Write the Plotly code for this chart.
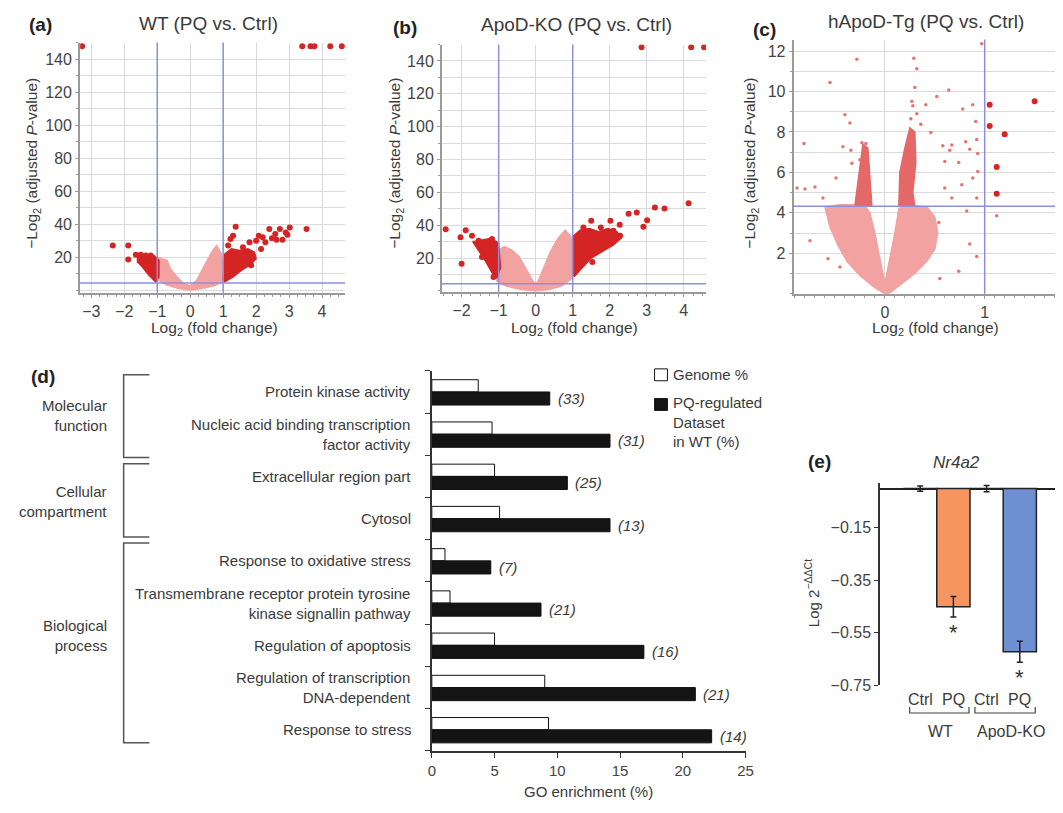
import plotly.graph_objects as go

W, H = 1063, 813

def px(x):
    return x / W

def py(y):
    return 1 - y / H

FONT = "Liberation Sans, Arial, sans-serif"
TXT = "#3a3a3a"
PINK = "#F3A2A2"
ARM = "#E46868"
RED = "#D42424"
BLUE = "#8E8EDC"
GRID = "#DADADA"
AXIS = "#9A9A9A"
ORANGE = "#F79560"
BLUEBAR = "#6E8FD0"

# ---------------- data: volcano (a) WT ----------------
wt_cloud = [(-1.0, 20), (-0.85, 19), (-0.7, 18), (-0.6, 13), (-0.4, 8), (-0.2, 4), (0.0, 2.5),
            (0.2, 6), (0.35, 12), (0.5, 18), (0.65, 23), (0.8, 27), (0.95, 22), (1.0, 16),
            (1.0, 5), (0.7, 2.5), (0.35, 1), (0.0, 0), (-0.35, 1), (-0.7, 3), (-0.95, 6)]
wt_blob_left = [(-1.6, 20), (-1.35, 21), (-1.1, 21), (-0.95, 18), (-0.95, 8), (-1.05, 5),
                (-1.25, 9), (-1.45, 14), (-1.6, 17)]
wt_blob_right = [(1.0, 6), (1.05, 22), (1.25, 25), (1.5, 24), (1.75, 25), (1.95, 23), (2.0, 19),
                 (1.8, 15), (1.55, 12), (1.3, 8), (1.05, 5)]
wt_sig = [(-2.35, 27), (-1.88, 27), (-1.88, 18.6), (-1.65, 21.5), (-1.5, 21.5), (-1.35, 21),
          (-1.2, 21), (-1.4, 17), (-1.3, 15), (-1.15, 18), (-1.1, 13), (-1.05, 11),
          (1.38, 38.4), (1.30, 33), (1.22, 31), (1.15, 27), (1.8, 29), (2.08, 33), (2.2, 32),
          (2.4, 37), (2.58, 34), (2.72, 37), (2.8, 30.5), (2.95, 33.5), (3.02, 38), (3.53, 37),
          (2.15, 25), (1.85, 15), (1.75, 21), (1.6, 26), (2.0, 30), (2.28, 29), (2.48, 31.5),
          (2.62, 30.5), (2.9, 35), (-3.28, 148), (3.4, 148), (3.65, 148), (3.77, 148),
          (4.25, 148), (4.6, 148)]

# ---------------- data: volcano (b) ApoD-KO ----------------
ko_cloud = [(-1.05, 24), (-0.85, 27), (-0.65, 25), (-0.45, 21), (-0.25, 13), (-0.05, 5),
            (0.05, 5), (0.2, 13), (0.4, 24), (0.6, 32), (0.8, 37), (0.95, 33), (1.0, 25),
            (1.0, 8), (0.7, 3), (0.35, 0.8), (0.0, 0), (-0.4, 0.8), (-0.8, 3), (-1.05, 6)]
ko_blob_left = [(-1.7, 30), (-1.45, 31), (-1.2, 32), (-1.0, 29), (-0.95, 14), (-1.05, 8),
                (-1.15, 10), (-1.35, 18), (-1.55, 25)]
ko_blob_right = [(1.0, 10), (1.0, 33), (1.2, 37), (1.45, 38), (1.7, 36), (1.95, 38), (2.2, 36),
                 (2.3, 32), (2.1, 28), (1.8, 24), (1.5, 20), (1.25, 14), (1.05, 9)]
ko_sig = [(-2.43, 37.6), (-2.03, 32.6), (-1.89, 37), (-1.72, 33.6), (-2.0, 16.6), (-1.54, 30.6),
          (-1.18, 31.6), (-1.14, 8.5), (-1.45, 20.6), (-1.3, 25), (1.5, 42.7), (1.29, 38.6),
          (2.02, 42.7), (2.27, 40.3), (2.51, 47), (2.73, 47.7), (3.22, 50.7), (3.48, 50.1),
          (4.13, 53.3), (3.01, 43), (2.91, 39), (1.53, 17.6), (2.28, 33.6), (1.93, 35.6),
          (1.76, 38.6), (2.1, 36.6), (2.86, 148.4), (4.2, 148.4), (4.55, 148.4)]

# ---------------- data: volcano (c) hApoD-Tg ----------------
tg_cloud = [(0.0, 0.0), (-0.1, 0.3), (-0.25, 0.9), (-0.38, 1.6), (-0.47, 2.4), (-0.55, 3.3),
            (-0.6, 4.3), (-0.45, 4.4), (-0.3, 4.4), (-0.2, 4.35), (-0.15, 4.0), (-0.1, 3.0),
            (-0.06, 2.0), (-0.02, 1.0), (0.0, 0.5), (0.02, 1.0), (0.06, 2.0), (0.1, 3.0),
            (0.14, 4.2), (0.2, 4.4), (0.3, 4.35), (0.42, 4.3), (0.5, 3.8), (0.53, 3.0),
            (0.5, 2.2), (0.42, 1.6), (0.3, 1.0), (0.15, 0.4), (0.04, 0.0)]
tg_arm_left = [(-0.3, 4.35), (-0.27, 5.5), (-0.25, 6.5), (-0.22, 7.4), (-0.17, 7.2),
               (-0.15, 6.0), (-0.13, 4.35)]
tg_arm_right = [(0.14, 4.35), (0.15, 6.0), (0.2, 7.2), (0.25, 8.2), (0.3, 8.0), (0.31, 6.5),
                (0.28, 5.0), (0.3, 4.35)]
tg_pts = [(0.97, 12.36), (-0.28, 11.59), (0.29, 11.64), (0.32, 11.13), (-0.55, 10.45),
          (0.30, 10.2), (0.64, 10.07), (0.52, 9.75), (0.27, 9.52), (0.28, 9.3), (0.41, 9.35),
          (0.78, 9.14), (0.88, 9.35), (0.32, 8.9), (-0.40, 8.85), (-0.35, 8.44), (0.26, 8.65),
          (0.36, 8.38), (0.91, 8.52), (0.46, 7.97), (-0.81, 7.43), (-0.42, 7.27), (-0.23, 7.47),
          (-0.19, 7.43), (-0.34, 7.1), (0.67, 7.35), (0.58, 7.32), (0.81, 7.52), (0.92, 7.63),
          (0.85, 7.14), (0.65, 7.1), (0.93, 6.94), (-0.25, 6.62), (-0.33, 6.45), (0.60, 6.54),
          (0.74, 6.49), (1.12, 3.85), (-0.75, 2.62), (0.74, 1.11), (0.92, 1.84), (-0.88, 5.23),
          (-0.80, 5.18), (-0.70, 5.28), (-0.62, 4.74), (-0.49, 5.72), (0.77, 5.39), (0.93, 6.05),
          (0.88, 5.72), (0.60, 5.23), (0.67, 4.74), (0.92, 4.74), (0.54, 3.52), (0.82, 4.09),
          (0.85, 2.46), (-0.57, 1.73), (-0.45, 1.32), (0.55, 0.75)]
tg_sig = [(1.05, 9.35), (1.50, 9.52), (1.05, 8.3), (1.20, 7.89), (1.12, 6.27), (1.12, 4.94)]

fc_cut = 1.0
p_cut = 4.32

# ---------------- data: GO enrichment (d) ----------------
go_terms = ["Protein kinase activity",
            "Nucleic acid binding transcription<br>factor activity",
            "Extracellular region part",
            "Cytosol",
            "Response to oxidative stress",
            "Transmembrane receptor protein tyrosine<br>kinase signallin pathway",
            "Regulation of apoptosis",
            "Regulation of transcription<br>DNA-dependent",
            "Response to stress"]
genome_pct = [3.7, 4.8, 5.0, 5.4, 1.05, 1.45, 5.0, 9.0, 9.3]
pq_pct = [9.4, 14.2, 10.8, 14.2, 4.7, 8.7, 16.9, 21.0, 22.3]
gene_counts = [33, 31, 25, 13, 7, 21, 16, 21, 14]
go_groups = ["Molecular<br>function", "Cellular<br>compartment", "Biological<br>process"]

# ---------------- data: qPCR (e) ----------------
conds = ["Ctrl", "PQ", "Ctrl", "PQ"]
genotypes = ["WT", "ApoD-KO"]
nr4a2_vals = [0.0, -0.451, 0.0, -0.623]
nr4a2_err = [0.01, 0.039, 0.012, 0.04]

fig = go.Figure()


def unzip(pairs):
    return [p[0] for p in pairs], [p[1] for p in pairs]


def add_poly(pairs, color, n):
    x, y = unzip(pairs)
    fig.add_trace(go.Scatter(x=x + [x[0]], y=y + [y[0]], mode="lines", fill="toself",
                             fillcolor=color, line=dict(color=color, width=1.5),
                             xaxis="x" + n, yaxis="y" + n, hoverinfo="skip", showlegend=False))


def add_pts(pairs, color, size, n):
    x, y = unzip(pairs)
    fig.add_trace(go.Scatter(x=x, y=y, mode="markers",
                             marker=dict(color=color, size=size, line=dict(width=0)),
                             xaxis="x" + n, yaxis="y" + n, hoverinfo="skip", showlegend=False))


# (a)
add_poly(wt_cloud, PINK, "")
add_poly(wt_blob_left, RED, "")
add_poly(wt_blob_right, RED, "")
add_pts(wt_sig, RED, 6, "")
# (b)
add_poly(ko_cloud, PINK, "2")
add_poly(ko_blob_left, RED, "2")
add_poly(ko_blob_right, RED, "2")
add_pts(ko_sig, RED, 6, "2")
# (c)
add_poly(tg_cloud, PINK, "3")
add_poly(tg_arm_left, ARM, "3")
add_poly(tg_arm_right, ARM, "3")
add_pts(tg_pts, "#EC7272", 3.5, "3")
add_pts(tg_sig, RED, 6, "3")

# (d) bars
cat_idx = list(range(len(go_terms)))
fig.add_trace(go.Bar(y=cat_idx, x=genome_pct, orientation="h", width=0.29, offset=-0.29,
                     marker=dict(color="white", line=dict(color="#111", width=1)),
                     xaxis="x4", yaxis="y4", showlegend=False, hoverinfo="skip"))
fig.add_trace(go.Bar(y=cat_idx, x=pq_pct, orientation="h", width=0.31, offset=0.0,
                     marker=dict(color="#141414", line=dict(color="#111", width=1)),
                     xaxis="x4", yaxis="y4", showlegend=False, hoverinfo="skip"))

# (e) bars
cond_idx = list(range(len(conds)))
fig.add_trace(go.Bar(x=cond_idx, y=nr4a2_vals, width=1.0,
                     marker=dict(color=[ORANGE, ORANGE, BLUEBAR, BLUEBAR],
                                 line=dict(color="#222", width=1.5)),
                     error_y=dict(type="data", array=nr4a2_err, color="#222", thickness=1.5, width=3),
                     xaxis="x5", yaxis="y5", showlegend=False, hoverinfo="skip"))

tickfont = dict(family=FONT, size=16, color="#444")
tickfont_d = dict(family=FONT, size=15, color="#444")


def volcano_x(dom, rng, tv, anchor, minor_dt):
    return dict(domain=dom, range=rng, tickvals=tv, showgrid=True, gridcolor=GRID, gridwidth=1,
                showline=True, linecolor=AXIS, linewidth=2, ticks="outside", ticklen=3,
                tickcolor=AXIS, zeroline=False, tickfont=tickfont, anchor=anchor,
                minor=dict(dtick=minor_dt, ticks="outside", ticklen=2, tickcolor=AXIS, showgrid=False))


def volcano_y(dom, rng, tv, anchor, minor_dt):
    return dict(domain=dom, range=rng, tickvals=tv, showgrid=True, gridcolor=GRID, gridwidth=1,
                showline=True, linecolor=AXIS, linewidth=2, ticks="outside", ticklen=3,
                tickcolor=AXIS, zeroline=False, tickfont=tickfont, anchor=anchor,
                minor=dict(dtick=minor_dt, ticks="outside", ticklen=2, tickcolor=AXIS,
                           showgrid=True, gridcolor=GRID))


layout = dict(
    width=W, height=H, margin=dict(l=0, r=0, t=0, b=0),
    paper_bgcolor="white", plot_bgcolor="white",
    font=dict(family=FONT, color=TXT), showlegend=False, barmode="overlay",
    xaxis=volcano_x([px(77), px(345)], [-3.34, 4.7], list(range(-3, 5)), "y", 0.25),
    yaxis=volcano_y([py(296), py(43)], [-1.6, 150.2], list(range(20, 141, 20)), "x", 10),
    xaxis2=volcano_x([px(443), px(710)], [-2.53, 4.6], list(range(-2, 5)), "y2", 0.25),
    yaxis2=volcano_y([py(295), py(45)], [-0.5, 150], list(range(20, 141, 20)), "x2", 10),
    xaxis3=volcano_x([px(798.7), 1.0], [-0.913, 1.704], [0, 1], "y3", 0.1),
    yaxis3=volcano_y([py(297), py(40)], [0, 12.57], list(range(2, 13, 2)), "x3", 1),
    xaxis4=dict(domain=[px(432.7), px(750)], range=[0, 25], tickvals=[0, 5, 10, 15, 20, 25],
                showgrid=False, zeroline=False, showline=True, linecolor="#333", linewidth=1.5,
                ticks="outside", ticklen=5, tickcolor="#333", tickfont=tickfont_d, anchor="y4"),
    yaxis4=dict(domain=[py(759.3), py(375)], range=[8.5, -0.5], tickvals=[],
                showticklabels=False, showgrid=False, zeroline=False,
                showline=True, linecolor="#333", linewidth=1.5, ticks="outside", ticklen=5,
                tickcolor="#333", anchor="x4",
                minor=dict(tickvals=[i - 0.5 for i in range(len(go_terms) + 1)], ticks="outside",
                           ticklen=5, tickcolor="#333", tickwidth=1, showgrid=False)),
    xaxis5=dict(domain=[px(886), 1.0], range=[-1.21, 4.06], tickvals=[], showticklabels=False,
                showgrid=False, zeroline=False, showline=False, ticks="", anchor="y5"),
    yaxis5=dict(domain=[py(692.7), py(488.7)], range=[-0.75, 0.02],
                tickvals=[-0.15, -0.35, -0.55, -0.75], showgrid=False, zeroline=True,
                zerolinecolor="#222", zerolinewidth=1.5, showline=True, linecolor="#333",
                linewidth=1.5, ticks="outside", ticklen=4, tickcolor="#333",
                tickfont=dict(family=FONT, size=16, color="#444"), anchor="x5"),
)
fig.update_layout(**layout)

shapes = []
# threshold lines in volcano plots
for n, show_neg in (("", True), ("2", True), ("3", False)):
    xs = [fc_cut, -fc_cut] if show_neg else [fc_cut]
    for xv in xs:
        shapes.append(dict(type="line", xref="x" + n, yref="y" + n + " domain",
                           x0=xv, x1=xv, y0=0, y1=1, line=dict(color=BLUE, width=1.5), layer="above"))
    shapes.append(dict(type="line", xref="x" + n + " domain", yref="y" + n,
                       x0=0, x1=1, y0=p_cut, y1=p_cut, line=dict(color=BLUE, width=1.5), layer="above"))

# GO group brackets
for top_px, bot_px in ((379, 462.7), (469, 543), (549, 751)):
    shapes.append(dict(type="path", xref="paper", yref="paper",
                       path=f"M {px(147)},{py(top_px)} L {px(121)},{py(top_px)} L {px(121)},{py(bot_px)} L {px(147)},{py(bot_px)}",
                       line=dict(color="#555", width=1.5)))

# legend boxes (d)
shapes.append(dict(type="rect", xref="paper", yref="paper", x0=px(658), x1=px(671), y0=py(385), y1=py(373),
                   line=dict(color="#111", width=1), fillcolor="white"))
shapes.append(dict(type="rect", xref="paper", yref="paper", x0=px(658), x1=px(671), y0=py(415), y1=py(403),
                   line=dict(color="#111", width=1), fillcolor="#141414"))

# genotype brackets (e)
for x0, x1 in ((916, 976), (982, 1043)):
    shapes.append(dict(type="path", xref="paper", yref="paper",
                       path=f"M {px(x0)},{py(715)} L {px(x0)},{py(721)} L {px(x1)},{py(721)} L {px(x1)},{py(715)}",
                       line=dict(color="#444", width=1.2)))
fig.update_layout(shapes=shapes)

ann = []


def txt(x, y, text, size=13, color=TXT, xanchor="center", angle=0, align="center"):
    ann.append(dict(x=px(x), y=py(y), xref="paper", yref="paper", text=text, showarrow=False,
                    font=dict(family=FONT, size=size, color=color), xanchor=xanchor,
                    yanchor="middle", textangle=angle, align=align))


# panel letters and titles
txt(37, 25, "<b>(a)</b>", 19, "#222")
txt(406, 28, "<b>(b)</b>", 19, "#222")
txt(769, 30, "<b>(c)</b>", 19, "#222")
txt(39, 381, "<b>(d)</b>", 19, "#222")
txt(825, 467, "<b>(e)</b>", 19, "#222")
txt(207, 24, "WT (PQ vs. Ctrl)", 19)
txt(579, 25, "ApoD-KO (PQ vs. Ctrl)", 19)
txt(933, 22, "hApoD-Tg (PQ vs. Ctrl)", 19)

ytitle = "\u2212Log<sub>2</sub> (adjusted <i>P</i>-value)"
xtitle = "Log<sub>2</sub> (fold change)"
for yx, xx in ((29, 213), (396, 577), (755, 942)):
    txt(yx, 165, ytitle, 15.5, angle=-90)
    txt(xx, 332, xtitle, 15.5)

# GO term labels
for i, term in enumerate(go_terms):
    ann.append(dict(x=px(414), xref="paper", y=i, yref="y4", text=term, showarrow=False,
                    font=dict(family=FONT, size=15, color=TXT), xanchor="right", align="right",
                    yanchor="middle"))
    ann.append(dict(x=pq_pct[i], xref="x4", y=i + 0.155, yref="y4",
                    text=f"<i>({gene_counts[i]})</i>", showarrow=False, xshift=6,
                    font=dict(family=FONT, size=15, color=TXT), xanchor="left", yanchor="middle"))
for label, ypix in zip(go_groups, (420, 507, 643)):
    txt(106, ypix, label, 15, xanchor="right", align="right")

txt(675, 379, "Genome %", 15, xanchor="left")
txt(675, 427, "PQ-regulated<br>Dataset<br>in WT (%)", 15, xanchor="left", align="left")
txt(591, 800, "GO enrichment (%)", 15)

# panel (e) labels
txt(963, 468, "<i>Nr4a2</i>", 17)
txt(817, 600, "Log 2<sup>\u2212\u0394\u0394Ct</sup>", 15, angle=-90)
for i, c in enumerate(conds):
    ann.append(dict(x=i, xref="x5", y=py(707), yref="paper", text=c, showarrow=False,
                    font=dict(family=FONT, size=16, color=TXT), xanchor="center", yanchor="middle"))
txt(947, 740, genotypes[0], 16)
txt(1018, 740, genotypes[1], 16)
for i in (1, 3):
    ann.append(dict(x=i, xref="x5", y=nr4a2_vals[i] - nr4a2_err[i] - 0.06, yref="y5", text="*",
                    showarrow=False, font=dict(family=FONT, size=22, color="#333"),
                    xanchor="center", yanchor="middle"))

fig.update_layout(annotations=ann)
fig.write_html("out.html", config={"displayModeBar": False},
               post_script="document.body.style.margin='0px';document.body.style.overflow='hidden';")
